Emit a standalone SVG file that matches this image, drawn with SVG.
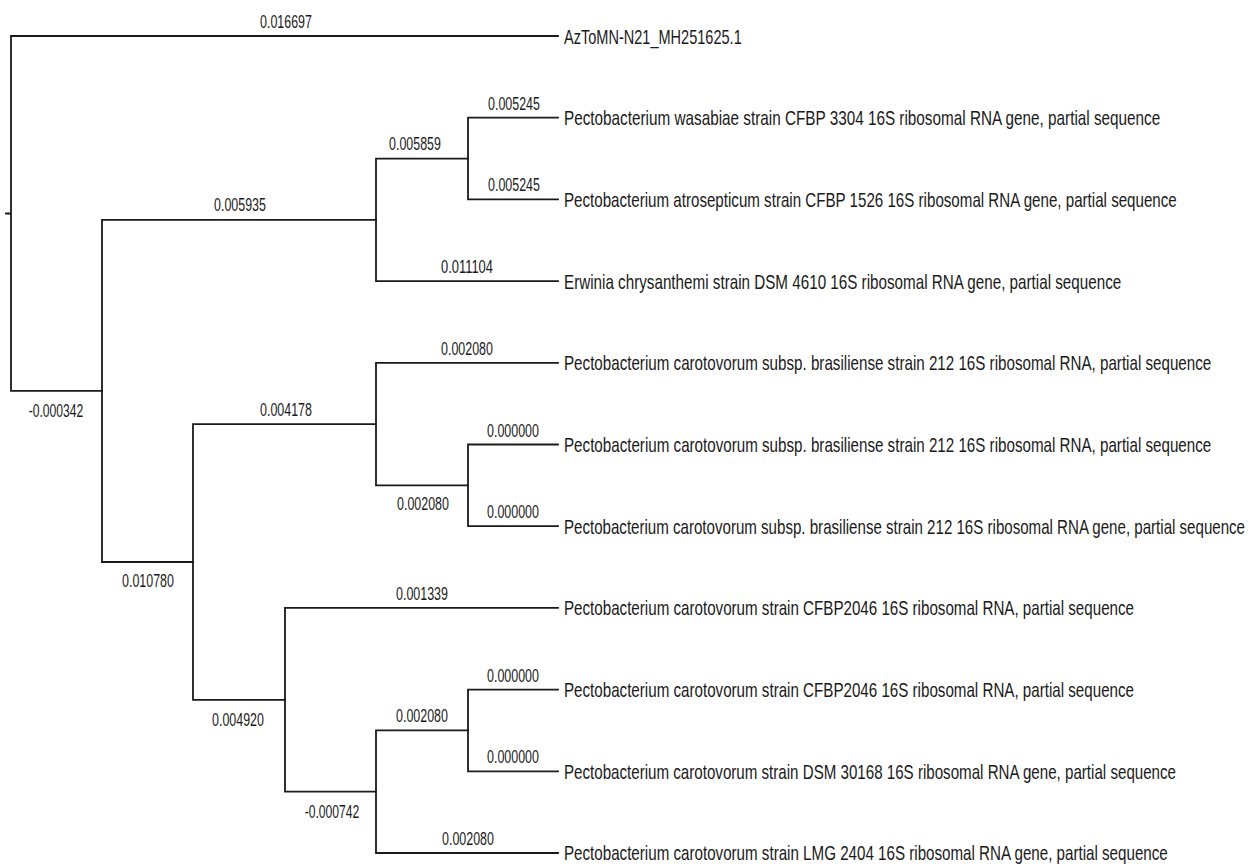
<svg xmlns="http://www.w3.org/2000/svg" width="1255" height="865" viewBox="0 0 1255 865">
<style>
.br{fill:none;stroke:#1a1a1a;stroke-width:1.8;stroke-linecap:square}
.lf{font-family:"Liberation Sans",Arial,sans-serif;font-size:20px;fill:#1a1a1a}
.bl{font-family:"Liberation Sans",Arial,sans-serif;font-size:17.5px;fill:#1a1a1a;text-anchor:middle}
</style>
<rect width="1255" height="865" fill="#ffffff"/>
<g id="connectors">
<path class="br" d="M6,213.5H11M11,36V390.9M11,36H558M11,390.9H102"/>
<path class="br" d="M102,219.8V562M102,219.8H376M102,562H193"/>
<path class="br" d="M376,158.6V281.1M376,158.6H468M376,281.1H558"/>
<path class="br" d="M468,117.7V199.4M468,117.7H558M468,199.4H558"/>
<path class="br" d="M193,424.1V699.8M193,424.1H376M193,699.8H285"/>
<path class="br" d="M376,362.8V485.3M376,362.8H558M376,485.3H468"/>
<path class="br" d="M468,444.5V526.2M468,444.5H558M468,526.2H558"/>
<path class="br" d="M285,607.9V791.7M285,607.9H558M285,791.7H376"/>
<path class="br" d="M376,730.4V853M376,730.4H468M376,853H558"/>
<path class="br" d="M468,689.6V771.3M468,689.6H558M468,771.3H558"/>
</g>
<g id="branch-lengths">
<text class="bl" transform="translate(286,28) scale(0.72,1)" textLength="72" lengthAdjust="spacingAndGlyphs">0.016697</text>
<text class="bl" transform="translate(240,211) scale(0.72,1)" textLength="72" lengthAdjust="spacingAndGlyphs">0.005935</text>
<text class="bl" transform="translate(415,150) scale(0.72,1)" textLength="72" lengthAdjust="spacingAndGlyphs">0.005859</text>
<text class="bl" transform="translate(514,110) scale(0.72,1)" textLength="72" lengthAdjust="spacingAndGlyphs">0.005245</text>
<text class="bl" transform="translate(514,191) scale(0.72,1)" textLength="72" lengthAdjust="spacingAndGlyphs">0.005245</text>
<text class="bl" transform="translate(467,273) scale(0.72,1)" textLength="72" lengthAdjust="spacingAndGlyphs">0.011104</text>
<text class="bl" transform="translate(56,417) scale(0.72,1)" textLength="76" lengthAdjust="spacingAndGlyphs">-0.000342</text>
<text class="bl" transform="translate(467,355) scale(0.72,1)" textLength="72" lengthAdjust="spacingAndGlyphs">0.002080</text>
<text class="bl" transform="translate(286,416) scale(0.72,1)" textLength="72" lengthAdjust="spacingAndGlyphs">0.004178</text>
<text class="bl" transform="translate(513,437) scale(0.72,1)" textLength="72" lengthAdjust="spacingAndGlyphs">0.000000</text>
<text class="bl" transform="translate(423,510) scale(0.72,1)" textLength="72" lengthAdjust="spacingAndGlyphs">0.002080</text>
<text class="bl" transform="translate(513,518) scale(0.72,1)" textLength="72" lengthAdjust="spacingAndGlyphs">0.000000</text>
<text class="bl" transform="translate(148,587) scale(0.72,1)" textLength="72" lengthAdjust="spacingAndGlyphs">0.010780</text>
<text class="bl" transform="translate(422,600) scale(0.72,1)" textLength="72" lengthAdjust="spacingAndGlyphs">0.001339</text>
<text class="bl" transform="translate(238,726) scale(0.72,1)" textLength="72" lengthAdjust="spacingAndGlyphs">0.004920</text>
<text class="bl" transform="translate(513,682) scale(0.72,1)" textLength="72" lengthAdjust="spacingAndGlyphs">0.000000</text>
<text class="bl" transform="translate(422,722) scale(0.72,1)" textLength="72" lengthAdjust="spacingAndGlyphs">0.002080</text>
<text class="bl" transform="translate(513,763) scale(0.72,1)" textLength="72" lengthAdjust="spacingAndGlyphs">0.000000</text>
<text class="bl" transform="translate(332,818) scale(0.72,1)" textLength="76" lengthAdjust="spacingAndGlyphs">-0.000742</text>
<text class="bl" transform="translate(468,845) scale(0.72,1)" textLength="72" lengthAdjust="spacingAndGlyphs">0.002080</text>
</g>
<g id="leaf-1"><text class="lf" transform="translate(564,43.5) scale(0.75,1)" textLength="237" lengthAdjust="spacingAndGlyphs">AzToMN-N21_MH251625.1</text></g>
<g id="leaf-2"><text class="lf" transform="translate(564,125.2) scale(0.75,1)" textLength="795" lengthAdjust="spacingAndGlyphs">Pectobacterium wasabiae strain CFBP 3304 16S ribosomal RNA gene, partial sequence</text></g>
<g id="leaf-3"><text class="lf" transform="translate(564,206.9) scale(0.75,1)" textLength="817" lengthAdjust="spacingAndGlyphs">Pectobacterium atrosepticum strain CFBP 1526 16S ribosomal RNA gene, partial sequence</text></g>
<g id="leaf-4"><text class="lf" transform="translate(564,288.6) scale(0.75,1)" textLength="743" lengthAdjust="spacingAndGlyphs">Erwinia chrysanthemi strain DSM 4610 16S ribosomal RNA gene, partial sequence</text></g>
<g id="leaf-5"><text class="lf" transform="translate(564,370.3) scale(0.75,1)" textLength="863" lengthAdjust="spacingAndGlyphs">Pectobacterium carotovorum subsp. brasiliense strain 212 16S ribosomal RNA, partial sequence</text></g>
<g id="leaf-6"><text class="lf" transform="translate(564,452) scale(0.75,1)" textLength="863" lengthAdjust="spacingAndGlyphs">Pectobacterium carotovorum subsp. brasiliense strain 212 16S ribosomal RNA, partial sequence</text></g>
<g id="leaf-7"><text class="lf" transform="translate(564,533.7) scale(0.75,1)" textLength="908" lengthAdjust="spacingAndGlyphs">Pectobacterium carotovorum subsp. brasiliense strain 212 16S ribosomal RNA gene, partial sequence</text></g>
<g id="leaf-8"><text class="lf" transform="translate(564,615.4) scale(0.75,1)" textLength="760" lengthAdjust="spacingAndGlyphs">Pectobacterium carotovorum strain CFBP2046 16S ribosomal RNA, partial sequence</text></g>
<g id="leaf-9"><text class="lf" transform="translate(564,697.1) scale(0.75,1)" textLength="760" lengthAdjust="spacingAndGlyphs">Pectobacterium carotovorum strain CFBP2046 16S ribosomal RNA, partial sequence</text></g>
<g id="leaf-10"><text class="lf" transform="translate(564,778.8) scale(0.75,1)" textLength="816" lengthAdjust="spacingAndGlyphs">Pectobacterium carotovorum strain DSM 30168 16S ribosomal RNA gene, partial sequence</text></g>
<g id="leaf-11"><text class="lf" transform="translate(564,860) scale(0.75,1)" textLength="805" lengthAdjust="spacingAndGlyphs">Pectobacterium carotovorum strain LMG 2404 16S ribosomal RNA gene, partial sequence</text></g>
</svg>
